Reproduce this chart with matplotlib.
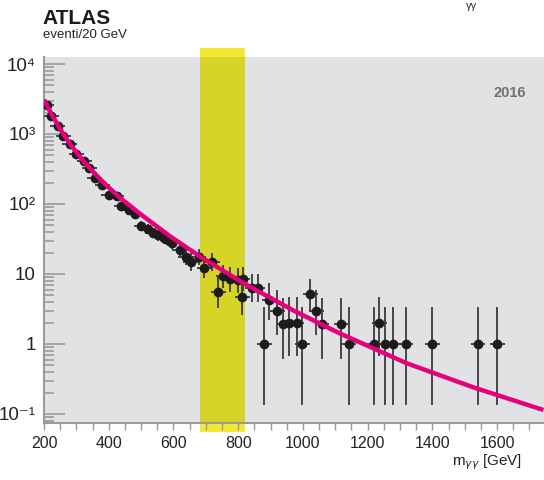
import matplotlib
matplotlib.use('Agg')
import matplotlib.pyplot as plt
from matplotlib.ticker import FixedLocator, MultipleLocator, NullFormatter, FuncFormatter

plt.rcParams['font.family'] = ['Liberation Sans Narrow', 'Liberation Sans', 'DejaVu Sans']

# data points (m_yy in GeV, events / 20 GeV)
mass = [208, 222, 242, 259, 280, 300, 324, 340, 357, 380, 400, 425, 439, 462,
        481, 500, 522, 536, 552, 572, 582, 595, 620, 638, 654, 679, 695, 720,
        738, 754, 776, 799, 814, 812, 843, 860, 880, 896, 921, 939, 957, 981,
        998, 1023, 1041, 1059, 1118, 1142, 1219, 1236, 1255, 1279, 1318, 1400,
        1541, 1601]
events = [2600, 1825, 1300, 927, 713, 523, 415, 323, 238, 187, 136, 131, 92.7,
          81, 72, 49, 43.5, 38.5, 35.7, 32.7, 30.6, 28, 22, 17.7, 15, 17.7,
          12.3, 14.8, 5.6, 9.4, 8.4, 8.2, 8.5, 4.65, 6.4, 6.4, 1.0, 4.2, 3.0,
          1.9, 2.0, 2.0, 1.0, 5.1, 3.0, 1.9, 1.9, 1.0, 1.0, 2.0, 1.0, 1.0,
          1.0, 1.0, 1.0, 1.0]
half_width = 23

# background fit curve
fit_m = [200, 225, 250, 280, 320, 360, 394, 440, 497, 589, 682, 816, 970,
         1115, 1177, 1321, 1527, 1743]
fit_y = [3090, 1862, 1175, 724, 417, 263, 182, 117.5, 72.4, 34.7, 17.8, 7.41,
         3.02, 1.41, 1.05, 0.53, 0.24, 0.114]

band = (682, 821)
year_label = '2016'

# poisson-like asymmetric errors
err_lo = [v - max(v - (v - 0.25) ** 0.5, 1e-3) for v in events]
err_hi = [(v + 0.75) ** 0.5 + 1 for v in events]

fig = plt.figure(figsize=(5.44, 4.8), dpi=100)
ax = fig.add_axes([44 / 544, 57 / 480, 500 / 544, 366 / 480])
ax.set_facecolor('#e1e2e4')
ax.set_yscale('log')
ax.set_xlim(200, 1745)
ax.set_ylim(0.0743, 12590)

# signal window: bright outside the frame, darker inside
ax.axvspan(*band, ymin=-0.0246, ymax=1.0246, color='#f2e830', lw=0,
           clip_on=False, zorder=0)
ax.axvspan(*band, color='#d8d327', lw=0, zorder=0.5)

ax.errorbar(mass, events, yerr=[err_lo, err_hi], xerr=half_width, fmt='o',
            color='#1c1c1c', ecolor='#3a3a3a', elinewidth=1.3, ms=6,
            capsize=0, zorder=3)
ax.plot(fit_m, fit_y, color='#e5007d', lw=3.2, zorder=4, solid_capstyle='butt')

# axes styling
for s in ['top', 'right']:
    ax.spines[s].set_visible(False)
for s in ['left', 'bottom']:
    ax.spines[s].set_color('#9a9a9a')
    ax.spines[s].set_linewidth(1.5)

ax.xaxis.set_major_locator(MultipleLocator(200))
ax.xaxis.set_minor_locator(MultipleLocator(50))
ax.tick_params(axis='x', which='both', direction='out', length=5, width=1,
               color='#9a9a9a', labelsize=11.5, pad=4, labelcolor='#222222')

ylab = {1e-1: '10⁻¹', 1: '1', 10: '10', 1e2: '10²', 1e3: '10³', 1e4: '10⁴'}
ax.yaxis.set_major_locator(FixedLocator(list(ylab.keys())))
ax.yaxis.set_major_formatter(FuncFormatter(lambda v, p: ylab.get(round(v, 6), '')))
ax.yaxis.set_minor_formatter(NullFormatter())
ax.tick_params(axis='y', which='major', direction='in', length=15, width=1.2,
               color='#9a9a9a', labelsize=13.5, pad=6, labelcolor='#222222')
ax.tick_params(axis='y', which='minor', direction='in', length=7.5, width=1.2,
               color='#9a9a9a')

ax.text(510 / 544 * 544 / 500 - 44 / 500, (423 - 93) / 366, year_label,
        transform=ax.transAxes, ha='center', va='center', fontsize=10.5,
        fontweight='bold', color='#707070')

fig.text(42 / 544, 1 - 18 / 480, 'ATLAS', fontsize=15, fontweight='bold',
         ha='left', va='center', color='#1a1a1a')
fig.text(43 / 544, 1 - 35 / 480, 'eventi/20 GeV', fontsize=9.5, ha='left',
         va='center', color='#222222')
fig.text(472 / 544, 1 - 1 / 480, 'γγ', fontsize=8, ha='center', va='top',
         color='#333333')
fig.text(522 / 544, 1 - 462 / 480, r'm$_{\gamma\gamma}$ [GeV]', fontsize=11,
         ha='right', va='center', color='#222222')

fig.savefig('out.png', dpi=100)
